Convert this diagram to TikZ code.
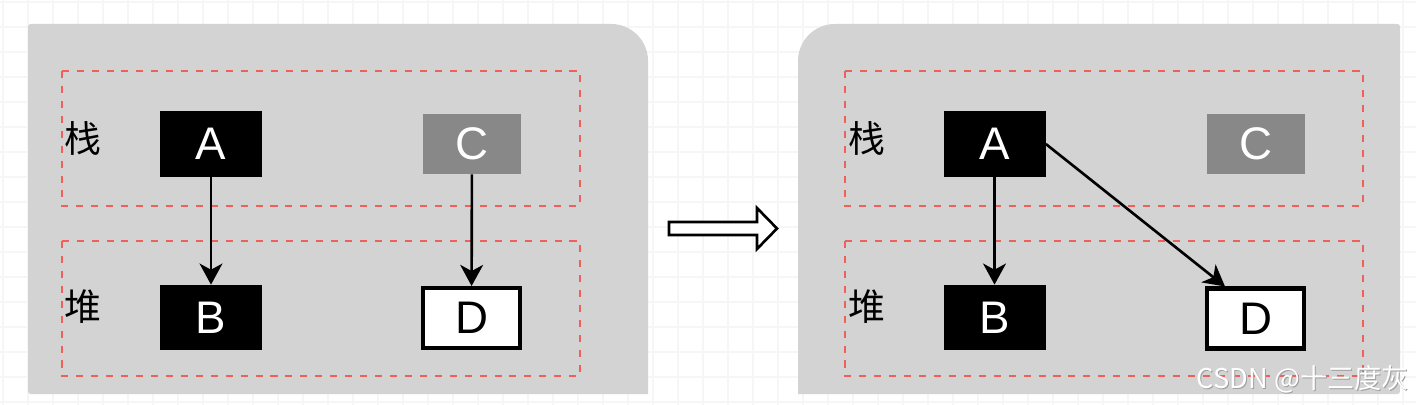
\documentclass[tikz,border=0pt]{standalone}
\usepackage{fontspec}
\setmainfont{Liberation Sans}
\newfontfamily\cjk{Noto Sans CJK SC}
\usetikzlibrary{arrows.meta,positioning}

\definecolor{panelgray}{RGB}{211,211,211}
\definecolor{boxgray}{RGB}{136,136,136}
\definecolor{dashred}{RGB}{240,96,88}
\definecolor{gridgray}{RGB}{246,246,246}

\begin{document}
\begin{tikzpicture}[x=0.02cm, y=-0.02cm,
    blk/.style={fill=black, text=white, inner sep=0pt, minimum width=2.04cm, minimum height=1.32cm, font=\fontsize{26}{26}\selectfont},
    gry/.style={blk, fill=boxgray, minimum width=1.96cm, minimum height=1.2cm},
    wht/.style={blk, fill=white, text=black, draw=black, line width=2.3pt, minimum width=1.94cm, minimum height=1.2cm},
    zone/.style={draw=dashred, line width=1.5pt, dash pattern=on 4pt off 4.5pt},
    lbl/.style={font=\cjk\fontsize{21}{21}\selectfont, inner sep=0pt},
    conn/.style={-{Stealth[length=12pt, width=13pt, inset=3.5pt]}, line width=1.5pt},
    wmtext/.style={font=\cjk\fontsize{15.5}{15.5}\selectfont, inner sep=0pt},
    gridline/.style={gridgray, line width=0.6pt}]
    \useasboundingbox (0,0) rectangle (1416,405);
    \fill[white] (0,0) rectangle (1416,405);
    \foreach \x in {3,28,...,1416} \draw[gridline] (\x,0) -- (\x,405);
    \foreach \y in {2,27,...,405} \draw[gridline] (0,\y) -- (1416,\y);

    \begin{scope}
    \clip[rounded corners=1.5pt] (28,24) rectangle (1400,394);
    \fill[panelgray, rounded corners=21pt] (-100,24) rectangle (648,450);
    \fill[panelgray, rounded corners=21pt] (798,24) rectangle (1500,450);
    \end{scope}

    \draw[zone] (62,71) rectangle (580,206);
    \draw[zone] (62,241) rectangle (580,376);
    \draw[zone] (845,71) rectangle (1363,206);
    \draw[zone] (845,241) rectangle (1363,376);

    \node[lbl] (lstack) at (83,138) {栈};
    \node[lbl] (lheap) at (83,307) {堆};
    \node[lbl] (rstack) at (867,138) {栈};
    \node[lbl] (rheap) at (867,307) {堆};

    \node[blk] (lA) at (211,144) {A};
    \node[blk, minimum height=1.3cm] (lB) at (211,317.5) {B};
    \node[gry] (lC) at (472,144) {C};
    \node[wht] (lD) at (471.5,318) {D};

    \node[blk] (rA) at (994.5,144) {A};
    \node[blk, minimum height=1.3cm] (rB) at (994.5,317.5) {B};
    \node[gry] (rC) at (1256,144) {C};
    \node[wht] (rD) at (1255.5,318.5) {D};

    \draw[conn] (lA) -- (lB);
    \draw[conn] (lC) -- (lD);
    \draw[conn] (rA) -- (rB);
    \draw[conn] (rA.east) -- ([xshift=0.4cm]rD.north west);

    \draw[line width=1.5pt, fill=white, line join=miter]
      (669,222) -- (757,222) -- (757,208) -- (777,228.5) -- (757,249) -- (757,235) -- (669,235) -- cycle;

    \node[wmtext, text=gray!75] (wmshade) at (1304,380) {CSDN @十三度灰};
    \node[wmtext, text=white] (wm) at (1303,379) {CSDN @十三度灰};
\end{tikzpicture}
\end{document}
